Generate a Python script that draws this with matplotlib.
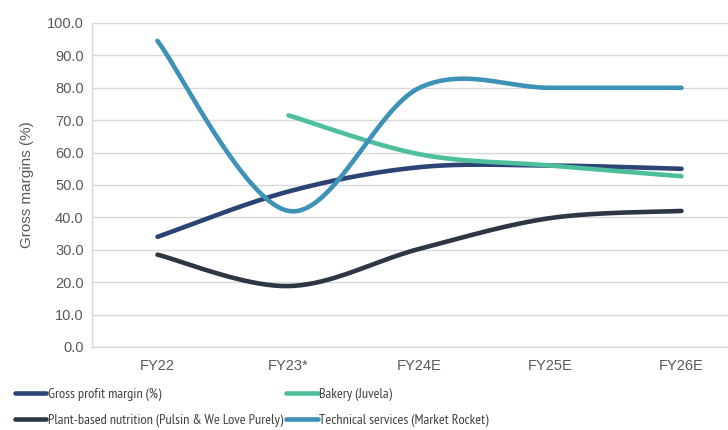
import matplotlib
matplotlib.use("Agg")
import matplotlib.pyplot as plt
import numpy as np

categories = ["FY22", "FY23*", "FY24E", "FY25E", "FY26E"]
gross_margin = [34.0, 48.0, 55.5, 56.0, 55.0]
bakery = [None, 71.5, 59.5, 56.0, 52.7]
plant_based = [28.5, 18.8, 30.3, 39.8, 42.0]
technical = [94.5, 42.0, 80.0, 80.0, 80.0]

series = [
    ("Gross profit margin (%)", gross_margin, "#2c4375"),
    ("Plant-based nutrition (Pulsin & We Love Purely)", plant_based, "#2c3645"),
    ("Bakery (Juvela)", bakery, "#4dbf9c"),
    ("Technical services (Market Rocket)", technical, "#3d92b6"),
]

GRAY = "#595959"
plt.rcParams["font.family"] = ["Liberation Sans", "DejaVu Sans"]


def smooth(xs, ys, n=40):
    """Excel-style smoothed line: Catmull-Rom as cubic Bezier segments."""
    pts = np.column_stack([xs, ys]).astype(float)
    out = [pts[0]]
    t = np.linspace(0, 1, n)[1:, None]
    for i in range(len(pts) - 1):
        p0 = pts[max(i - 1, 0)]
        p1, p2 = pts[i], pts[i + 1]
        p3 = pts[min(i + 2, len(pts) - 1)]
        c1 = p1 + (p2 - p0) / 6
        c2 = p2 - (p3 - p1) / 6
        seg = ((1 - t) ** 3) * p1 + 3 * ((1 - t) ** 2) * t * c1 \
            + 3 * (1 - t) * t ** 2 * c2 + t ** 3 * p2
        out.extend(seg)
    out = np.array(out)
    return out[:, 0], out[:, 1]


fig = plt.figure(figsize=(7.28, 4.30), dpi=100, facecolor="white")
ax = fig.add_axes([92 / 728, 1 - 347 / 430, 655 / 728, 324 / 430])

x = np.arange(len(categories))
handles = {}
for name, vals, col in series:
    xs = [xi for xi, v in zip(x, vals) if v is not None]
    ys = [v for v in vals if v is not None]
    sx, sy = smooth(xs, ys)
    ln, = ax.plot(sx, sy, color=col, lw=3.3, solid_capstyle="round", zorder=3)
    handles[name] = ln

ax.set_xlim(-0.5, len(categories) - 0.5)
ax.set_ylim(0, 100)
ax.set_yticks(np.arange(0, 101, 10))
ax.set_yticklabels([f"{v:.1f}" for v in np.arange(0, 101, 10)])
ax.set_xticks(x)
ax.set_xticklabels(categories)
ax.tick_params(axis="both", length=0, colors=GRAY, labelsize=10.5)
ax.tick_params(axis="x", pad=9)
ax.tick_params(axis="y", pad=6)
ax.grid(axis="y", color="#d9d9d9", lw=1.0, zorder=0)
for s in ["top", "right"]:
    ax.spines[s].set_visible(False)
for s in ["left", "bottom"]:
    ax.spines[s].set_color("#d9d9d9")
    ax.spines[s].set_linewidth(1.0)

ax.set_ylabel("Gross margins (%)", color=GRAY, fontsize=11)
ax.yaxis.set_label_coords(-0.088, 0.5)

names = [s[0] for s in series]
fig.legend([handles[n] for n in names], names, loc="upper left",
           bbox_to_anchor=(9 / 728, 1 - 382 / 430), ncol=2, frameon=False,
           prop={"family": ["PT Sans Narrow", "Liberation Sans"], "size": 10.3},
           labelcolor="#404040", handlelength=2.2,
           handletextpad=0.1, columnspacing=0.25, labelspacing=0.9,
           borderaxespad=0)

fig.savefig("out.png", dpi=100, facecolor="white")
